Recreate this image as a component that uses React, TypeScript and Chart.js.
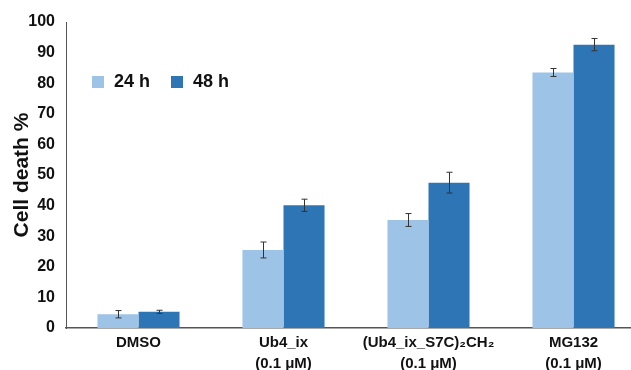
import React, { useEffect, useRef } from "react";
import { Chart, registerables } from "chart.js";

Chart.register(...registerables);

const categories: (string | string[])[] = [
  "DMSO",
  ["Ub4_ix", "(0.1 μM)"],
  ["(Ub4_ix_S7C)₂CH₂", "(0.1 μM)"],
  ["MG132", "(0.1 μM)"],
];
const seriesNames = ["24 h", "48 h"];
const values24 = [4.5, 25.5, 35.3, 83.5];
const values48 = [5.3, 40.1, 47.5, 92.6];
const err24 = [1.2, 2.6, 2.1, 1.3];
const err48 = [0.5, 2.0, 3.4, 2.0];
const yTicks = [0, 10, 20, 30, 40, 50, 60, 70, 80, 90, 100];

const LIGHT = "#9DC3E6";
const DARK = "#2E75B6";
const FONT = "'Liberation Sans', Arial, sans-serif";

const errorBarPlugin = {
  id: "errorBars",
  afterDatasetsDraw(chart: any) {
    const ctx = chart.ctx;
    const ys = chart.scales.y;
    const errs = [err24, err48];
    ctx.save();
    ctx.strokeStyle = "#333333";
    ctx.lineWidth = 1;
    chart.data.datasets.forEach((ds: any, i: number) => {
      const meta = chart.getDatasetMeta(i);
      meta.data.forEach((bar: any, j: number) => {
        const v = ds.data[j];
        const e = errs[i][j];
        const x = Math.round(bar.x) + 0.5;
        const yt = ys.getPixelForValue(v + e);
        const yb = ys.getPixelForValue(v - e);
        ctx.beginPath();
        ctx.moveTo(x, yt);
        ctx.lineTo(x, yb);
        ctx.moveTo(x - 3, yt);
        ctx.lineTo(x + 3, yt);
        ctx.moveTo(x - 3, yb);
        ctx.lineTo(x + 3, yb);
        ctx.stroke();
      });
    });
    ctx.restore();
  },
};

const legendTitlePlugin = {
  id: "customLegend",
  afterDraw(chart: any) {
    const ctx = chart.ctx;
    ctx.save();
    const items = [
      { x: 92, color: LIGHT, label: seriesNames[0] },
      { x: 171, color: DARK, label: seriesNames[1] },
    ];
    ctx.font = `bold 18px ${FONT}`;
    ctx.textBaseline = "middle";
    ctx.textAlign = "left";
    items.forEach((it) => {
      ctx.fillStyle = it.color;
      ctx.fillRect(it.x, 76, 12, 12);
      ctx.fillStyle = "#111111";
      ctx.fillText(it.label, it.x + 22, 82);
    });
    ctx.translate(22, 175);
    ctx.rotate(-Math.PI / 2);
    ctx.textAlign = "center";
    ctx.textBaseline = "middle";
    ctx.font = `bold 21px ${FONT}`;
    ctx.fillStyle = "#111111";
    ctx.fillText("Cell death %", 0, 0);
    ctx.restore();
  },
};

export default function App() {
  const ref = useRef<HTMLCanvasElement>(null);
  useEffect(() => {
    if (!ref.current) return;
    const chart = new Chart(ref.current, {
      type: "bar",
      data: {
        labels: categories,
        datasets: [
          { label: seriesNames[0], data: values24, backgroundColor: LIGHT },
          { label: seriesNames[1], data: values48, backgroundColor: DARK },
        ],
      },
      options: {
        animation: false,
        responsive: false,
        layout: { padding: { top: 22, right: 14, left: 0, bottom: 0 } },
        plugins: { legend: { display: false }, tooltip: { enabled: false } },
        datasets: { bar: { categoryPercentage: 0.566, barPercentage: 1 } },
        scales: {
          x: {
            grid: { display: false, drawTicks: false },
            border: { display: true, color: "#555555", width: 1.5 },
            ticks: {
              color: "#111111",
              font: { family: FONT, size: 15, weight: "bold", lineHeight: 1.4 },
              padding: 4,
              maxRotation: 0,
              autoSkip: false,
            },
            afterFit(s: any) {
              s.height = 42;
            },
          },
          y: {
            min: 0,
            max: 100,
            afterBuildTicks(s: any) {
              s.ticks = yTicks.map((v) => ({ value: v }));
            },
            grid: { display: false, drawTicks: false },
            border: { display: true, color: "#555555", width: 1 },
            ticks: {
              color: "#111111",
              font: { family: FONT, size: 16, weight: "bold" },
              padding: 11,
            },
            afterFit(s: any) {
              s.width = 66;
            },
          },
        },
      },
      plugins: [errorBarPlugin, legendTitlePlugin],
    });
    return () => chart.destroy();
  }, []);
  return (
    <div
      style={{
        position: "fixed",
        left: 0,
        top: 0,
        width: 631,
        height: 370,
        overflow: "hidden",
        background: "#ffffff",
      }}
    >
      <canvas ref={ref} width={660} height={370} style={{ display: "block", width: 660, height: 370 }} />
    </div>
  );
}
